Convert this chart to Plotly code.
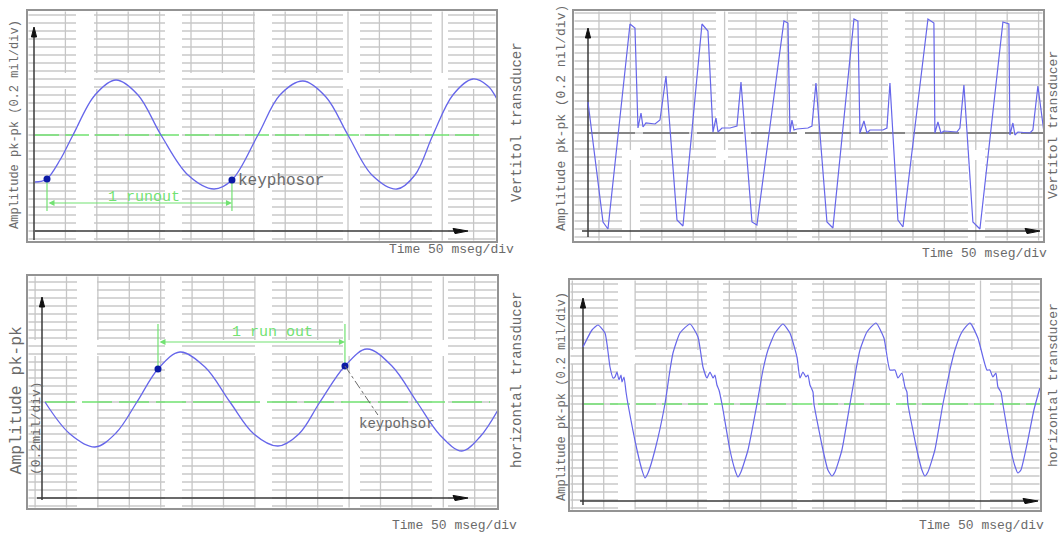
import math
import plotly.graph_objects as go

W, H = 1062, 535
MS_PER_DIV = 50.0          # time base: 50 ms per division
MIL_PER_DIV = 0.2          # amplitude: 0.2 mil per division
PX_PER_MS = 31.4 / MS_PER_DIV
PX_PER_MIL = 8.0 / MIL_PER_DIV

# ---------------- waveform data (time in ms, amplitude in mil) ----------------
# Vertical transducer, clean runout (top left)
vs_time = [1.6, 11.0, 20.7, 41.4, 62.1, 97.1, 130.5, 165.6, 202.2, 245.2, 286.6, 315.2,
           356.6, 391.6, 428.2, 464.9, 499.9, 538.1, 577.9, 606.6, 635.2, 667.0, 698.9,
           722.8, 737.1]
vs_amp = [-1.175, -1.16, -1.10, -0.625, 0.0, 1.0, 1.375, 1.0, 0.0, -1.0, -1.35, -1.125,
          0.0, 1.0, 1.35, 0.95, 0.0, -1.0, -1.35, -1.0, 0.0, 1.0, 1.4, 1.225, 0.9]
vs_key_time = [20.7, 315.2]
vs_key_amp = [-1.10, -1.125]

# Vertical transducer, impulsive signal (top right)
vi_time = [0.0, 23.9, 31.8, 66.9, 74.8, 79.6, 84.4, 87.6, 92.3, 106.7, 114.6, 124.2, 141.7,
           151.2, 181.5, 191.0, 199.0, 203.8, 207.0, 213.3, 226.1, 237.2, 243.6, 261.1,
           269.0, 312.0, 318.4, 321.6, 324.8, 328.0, 332.7, 350.2, 356.6, 363.0, 380.5,
           390.0, 423.5, 429.8, 433.0, 439.4, 444.2, 448.9, 469.6, 476.0, 480.8, 493.5,
           501.5, 541.3, 550.8, 552.4, 557.2, 562.0, 566.8, 587.4, 592.2, 598.6, 612.9,
           624.1, 660.7, 670.2, 671.8, 676.6, 679.8, 684.6, 703.7, 708.4, 716.4, 726.0]
vi_amp = [0.775, -2.225, -2.4, 2.725, 2.625, 0.125, 0.5, 0.15, 0.25, 0.225, 0.325, 1.425,
          -2.175, -2.325, 2.725, 2.55, 0.025, 0.375, 0.025, 0.125, 0.125, 0.175, 1.275,
          -2.225, -2.3, 2.8, 2.75, 0.0, 0.325, 0.075, 0.1, 0.125, 0.175, 1.25, -2.225,
          -2.375, 2.85, 2.8, 0.0, 0.3, 0.0, 0.075, 0.075, 0.125, 1.25, -2.175, -2.35,
          2.85, 2.75, 0.0, 0.275, 0.0, 0.05, 0.025, 0.125, 1.2, -2.225, -2.4, 2.775,
          2.725, -0.05, 0.25, -0.05, 0.025, 0.0, 0.075, 1.175, 0.025]

# Horizontal transducer, clean runout (bottom left)
hs_time = [4.8, 44.6, 84.4, 117.8, 151.2, 184.7, 219.7, 259.5, 299.3, 337.5, 375.7, 409.1,
           442.6, 482.4, 517.4, 557.2, 597.0, 633.6, 668.6, 697.3, 726.0]
hs_amp = [0.0, -0.8, -1.125, -0.775, 0.0, 0.825, 1.25, 0.875, 0.0, -0.8, -1.1, -0.8,
          0.0, 0.9, 1.325, 0.9, 0.0, -0.825, -1.225, -0.875, -0.2]
hs_key_time = [184.7, 482.4]
hs_key_amp = [0.825, 0.9]

# Horizontal transducer, signal with ripple (bottom right)
hn_time = [0.0, 14.3, 23.9, 35.0, 43.0, 47.8, 50.9, 54.1, 57.3, 60.5, 62.1, 65.3, 68.5, 71.6,
           86.0, 93.9, 98.7, 103.5, 114.6, 130.5, 138.5, 143.3, 154.4, 170.3, 183.1, 191.0,
           197.4, 202.2, 207.0, 210.1, 213.3, 216.5, 221.3, 234.0, 242.0, 246.8, 251.5,
           262.7, 277.0, 286.6, 294.5, 305.7, 318.4, 329.5, 340.7, 345.5, 350.2, 355.0,
           358.2, 361.4, 366.2, 367.8, 382.1, 390.0, 396.4, 401.2, 412.3, 425.1, 434.6,
           441.0, 452.1, 466.5, 479.2, 488.7, 496.7, 501.5, 507.8, 512.6, 515.8, 517.4,
           531.7, 539.7, 544.4, 549.2, 560.3, 573.1, 584.3, 592.2, 603.4, 616.1, 628.8,
           643.2, 647.9, 652.7, 657.5, 660.7, 665.5, 668.6, 681.4, 687.7, 692.5, 697.3,
           708.4, 718.0, 727.5]
hn_amp = [1.425, 1.85, 1.975, 1.775, 0.925, 0.65, 0.675, 0.8, 0.6, 0.725, 0.55, 0.675, 0.3,
          0.0, -1.15, -1.65, -1.85, -1.725, -1.15, 0.0, 0.85, 1.275, 1.775, 2.0, 1.675,
          0.925, 0.65, 0.8, 0.65, 0.725, 0.475, 0.35, 0.0, -1.15, -1.65, -1.825, -1.7,
          -1.15, 0.0, 0.85, 1.35, 1.775, 2.0, 1.775, 1.175, 0.65, 0.8, 0.675, 0.725, 0.475,
          0.3, 0.0, -1.15, -1.65, -1.8, -1.7, -1.15, 0.0, 0.85, 1.35, 1.8, 2.025, 1.65,
          0.85, 0.85, 0.65, 0.775, 0.425, 0.3, 0.0, -1.15, -1.65, -1.8, -1.7, -1.15, 0.0,
          0.85, 1.35, 1.8, 2.025, 1.65, 0.85, 0.85, 0.675, 0.775, 0.425, 0.3, 0.0, -1.15,
          -1.55, -1.725, -1.65, -0.9, -0.15, 0.4]

# ---------------- panel geometry (pixels on the page) ----------------
# frame = (left, top, right, bottom), origin = (x of amplitude axis, y of zero line)
panels = [
    dict(frame=(27, 10, 497, 242), origin=(34, 135), voff=0.0,
         hgaps=[(76, 94, 0, 600), (165, 182, 0, 600), (255, 272, 0, 600),
                (343, 360, 0, 600), (432, 448, 0, 600)],
         vbreaks=[(0, 1100, 73, 89)],
         vaxis=(240, 27), haxis=(231, 35, 468)),
    dict(frame=(573, 10, 1044, 242), origin=(588, 133), voff=17.5,
         hgaps=[(622, 640, 148, 600), (716, 728, 0, 160), (797, 812, 0, 600),
                (888, 905, 0, 160), (968, 985, 148, 600)],
         vbreaks=[(0, 1100, 150, 160)],
         vaxis=(237, 28), haxis=(231, 582, 1040)),
    dict(frame=(27, 275, 498, 509), origin=(42, 402), voff=39.0,
         hgaps=[(77, 97, 0, 600), (165, 182, 0, 600), (255, 272, 0, 600),
                (343, 360, 0, 600), (432, 448, 0, 600)],
         vbreaks=[(0, 1100, 340, 356)],
         vaxis=(500, 297), haxis=(498, 37, 468)),
    dict(frame=(569, 279, 1041, 511), origin=(583, 404), voff=33.0,
         hgaps=[(618, 635, 0, 600), (707, 723, 0, 600), (797, 812, 0, 600),
                (886, 902, 0, 600), (975, 990, 0, 600)],
         vbreaks=[(0, 1100, 350, 364)],
         vaxis=(505, 298), haxis=(501, 580, 1038)),
]

BLUE = "#6666ea"
GREEN = "#72e272"
TEXT = "#6a6a6a"
FONT = "Liberation Mono"


def tx(p, px):
    return (px - p["origin"][0]) / PX_PER_MS


def ay(p, py):
    return (p["origin"][1] - py) / PX_PER_MIL


def cut(lo, hi, holes):
    segs, cur = [], lo
    for h0, h1 in sorted(holes):
        if h1 <= cur or h0 >= hi:
            continue
        if h0 > cur:
            segs.append((cur, h0))
        cur = max(cur, h1)
    if cur < hi:
        segs.append((cur, hi))
    return segs


def grid_xy(p):
    L, T, R, B = p["frame"]
    ox, cy = p["origin"]
    hx, hy = [], []
    for k in range(math.ceil((T + 3 - cy) / 8.0), math.floor((B - 2 - cy) / 8.0) + 1):
        py = cy + 8.0 * k
        holes = [(g[0], g[1]) for g in p["hgaps"] if g[2] <= py <= g[3]]
        for s, e in cut(L + 1.5, R - 1.5, holes):
            hx += [tx(p, s), tx(p, e), None]
            hy += [ay(p, py), ay(p, py), None]
    vx, vy = [], []
    t_lo, t_hi = tx(p, L + 3), tx(p, R - 3)
    for n in range(math.ceil((t_lo - p["voff"]) / MS_PER_DIV),
                   math.floor((t_hi - p["voff"]) / MS_PER_DIV) + 1):
        t = p["voff"] + n * MS_PER_DIV
        if abs(t) < 5:
            continue
        px = ox + t * PX_PER_MS
        holes = [(b[2], b[3]) for b in p["vbreaks"] if b[0] <= px <= b[1]]
        for s, e in cut(T + 1.5, B - 1.5, holes):
            vx += [t, t, None]
            vy += [ay(p, s), ay(p, e), None]
    return hx, hy, vx, vy


fig = go.Figure()
layout = dict(width=W, height=H, margin=dict(l=0, r=0, t=0, b=0),
              paper_bgcolor="white", plot_bgcolor="rgba(0,0,0,0)",
              showlegend=False, shapes=[], annotations=[])

for i, p in enumerate(panels, start=1):
    L, T, R, B = p["frame"]
    sx = "" if i == 1 else str(i)
    xa, ya = "x" + sx, "y" + sx
    layout["xaxis" + sx] = dict(domain=[L / W, R / W], range=[tx(p, L), tx(p, R)],
                                visible=False, anchor=ya, fixedrange=True)
    layout["yaxis" + sx] = dict(domain=[1 - B / H, 1 - T / H], range=[ay(p, B), ay(p, T)],
                                visible=False, anchor=xa, fixedrange=True)
    p["xa"], p["ya"] = xa, ya

    hx, hy, vx, vy = grid_xy(p)
    fig.add_trace(go.Scatter(x=hx, y=hy, mode="lines", xaxis=xa, yaxis=ya,
                             line=dict(color="#d6d6d6", width=2), hoverinfo="skip"))
    fig.add_trace(go.Scatter(x=vx, y=vy, mode="lines", xaxis=xa, yaxis=ya,
                             line=dict(color="#c6c6c6", width=1.3), hoverinfo="skip"))

    # frame
    layout["shapes"].append(dict(type="rect", xref=xa + " domain", yref=ya + " domain",
                                 x0=0, x1=1, y0=0, y1=1,
                                 line=dict(color="#939393", width=2)))

    # axes with arrowheads
    vb, vt = p["vaxis"]
    hy_px, hx0, hx1 = p["haxis"]
    fig.add_trace(go.Scatter(x=[0, 0], y=[ay(p, vb), ay(p, vt + 6)], mode="lines",
                             xaxis=xa, yaxis=ya, line=dict(color="#3a3a3a", width=1.5),
                             hoverinfo="skip"))
    fig.add_trace(go.Scatter(x=[tx(p, hx0), tx(p, hx1 - 10)], y=[ay(p, hy_px)] * 2,
                             mode="lines", xaxis=xa, yaxis=ya,
                             line=dict(color="#3a3a3a", width=1.5), hoverinfo="skip"))
    ax_tip = ay(p, vt)
    fig.add_trace(go.Scatter(
        x=[0, -2.6 / PX_PER_MS, 2.6 / PX_PER_MS, 0],
        y=[ax_tip, ax_tip - 10 / PX_PER_MIL, ax_tip - 10 / PX_PER_MIL, ax_tip],
        mode="lines", fill="toself", fillcolor="#111", line=dict(color="#111", width=1),
        xaxis=xa, yaxis=ya, hoverinfo="skip"))
    h_tip, h_a = tx(p, hx1), ay(p, hy_px)
    fig.add_trace(go.Scatter(
        x=[h_tip, h_tip - 15 / PX_PER_MS, h_tip - 13 / PX_PER_MS, h_tip],
        y=[h_a, h_a + 2.6 / PX_PER_MIL, h_a - 2.6 / PX_PER_MIL, h_a],
        mode="lines", fill="toself", fillcolor="#111", line=dict(color="#111", width=1),
        xaxis=xa, yaxis=ya, hoverinfo="skip"))

    # "Time" caption under each frame
    layout["annotations"].append(dict(
        text="Time 50 mseg/div", xref="paper", yref="paper",
        x=[387, 920, 390, 917][i - 1] / W, y=1 - [249, 253, 525, 525][i - 1] / H,
        xanchor="left", yanchor="middle", showarrow=False,
        font=dict(family=FONT, size=13, color=TEXT)))

# zero lines
p1, p2, p3, p4 = panels
fig.add_trace(go.Scatter(x=[tx(p1, 35), tx(p1, 482)], y=[0, 0], mode="lines",
                         xaxis=p1["xa"], yaxis=p1["ya"],
                         line=dict(color=GREEN, width=1.5, dash="24px,6px"), hoverinfo="skip"))
fig.add_trace(go.Scatter(x=[tx(p2, 589), tx(p2, 1044)], y=[0, 0], mode="lines",
                         xaxis=p2["xa"], yaxis=p2["ya"],
                         line=dict(color="#858585", width=2, dash="46px,8px"), hoverinfo="skip"))
fig.add_trace(go.Scatter(x=[tx(p3, 45), tx(p3, 490)], y=[0, 0], mode="lines",
                         xaxis=p3["xa"], yaxis=p3["ya"],
                         line=dict(color=GREEN, width=1.5, dash="30px,7px"), hoverinfo="skip"))
fig.add_trace(go.Scatter(x=[tx(p4, 584), tx(p4, 1040)], y=[0, 0], mode="lines",
                         xaxis=p4["xa"], yaxis=p4["ya"],
                         line=dict(color=GREEN, width=1.5, dash="20px,6px"), hoverinfo="skip"))

# waveforms
fig.add_trace(go.Scatter(x=vs_time, y=vs_amp, mode="lines", xaxis=p1["xa"], yaxis=p1["ya"],
                         line=dict(color=BLUE, width=1.3, shape="spline", smoothing=1.0)))
fig.add_trace(go.Scatter(x=vi_time, y=vi_amp, mode="lines", xaxis=p2["xa"], yaxis=p2["ya"],
                         line=dict(color=BLUE, width=1.2)))
fig.add_trace(go.Scatter(x=hs_time, y=hs_amp, mode="lines", xaxis=p3["xa"], yaxis=p3["ya"],
                         line=dict(color=BLUE, width=1.3, shape="spline", smoothing=1.0)))
fig.add_trace(go.Scatter(x=hn_time, y=hn_amp, mode="lines", xaxis=p4["xa"], yaxis=p4["ya"],
                         line=dict(color=BLUE, width=1.2, shape="spline", smoothing=0.5)))


def runout_marks(p, key_t, key_a, ext_to, dim_a, label, label_t, label_a, label_size):
    xa, ya = p["xa"], p["ya"]
    for t, a in zip(key_t, key_a):
        fig.add_trace(go.Scatter(x=[t, t], y=[a, ext_to], mode="lines", xaxis=xa, yaxis=ya,
                                 line=dict(color=GREEN, width=1.2), hoverinfo="skip"))
    layout["annotations"].append(dict(
        x=key_t[1], y=dim_a, ax=key_t[0], ay=dim_a, xref=xa, yref=ya, axref=xa, ayref=ya,
        text="", showarrow=True, arrowside="end+start", arrowhead=2, arrowsize=1.0,
        arrowwidth=1.2, arrowcolor=GREEN, standoff=0, startstandoff=0))
    layout["annotations"].append(dict(
        x=label_t, y=label_a, xref=xa, yref=ya, text=label, showarrow=False,
        font=dict(family=FONT, size=label_size, color=GREEN), xanchor="center",
        yanchor="middle"))
    fig.add_trace(go.Scatter(x=key_t, y=key_a, mode="markers", xaxis=xa, yaxis=ya,
                             marker=dict(color="#0b1aa6", size=7)))


runout_marks(p1, vs_key_time, vs_key_amp, -1.9, -1.7, "1 runout", 175.0, -1.55, 15)
runout_marks(p3, hs_key_time, hs_key_amp, 1.95, 1.5, "1 run out", 367.8, 1.73, 15)

# keyphasor labels
layout["annotations"].append(dict(
    x=321.6, y=-1.15, xref=p1["xa"], yref=p1["ya"], text="keyphosor", showarrow=False,
    xanchor="left", yanchor="middle", font=dict(family=FONT, size=16, color=TEXT)))
fig.add_trace(go.Scatter(x=[hs_key_time[1], 534.9], y=[hs_key_amp[1], -0.325], mode="lines",
                         xaxis=p3["xa"], yaxis=p3["ya"],
                         line=dict(color="#6a6a6a", width=1, dash="dashdot"), hoverinfo="skip"))
layout["annotations"].append(dict(
    x=501.5, y=-0.55, xref=p3["xa"], yref=p3["ya"], text="keypohsor", showarrow=False,
    xanchor="left", yanchor="middle", font=dict(family=FONT, size=14, color=TEXT)))

# rotated captions: (text, x px, y px, size)
side_labels = [
    ("Amplitude pk-pk (0.2 mil/div)", 15, 125, 12),
    ("Amplitude pk-pk (0.2 nil/div)", 562, 118, 13),
    ("Amplitude pk-pk (0.2 mil/div)", 562, 397, 12),
    ("Vertitol transducer", 517, 122, 14),
    ("Vertitol transducer", 1053, 125, 13),
    ("horizontal transducer", 517, 380, 14),
    ("horizontal transducer", 1053, 385, 13),
]
for text, x, y, size in side_labels:
    layout["annotations"].append(dict(
        text=text, xref="paper", yref="paper", x=x / W, y=1 - y / H, textangle=-90,
        showarrow=False, xanchor="center", yanchor="middle",
        font=dict(family=FONT, size=size, color=TEXT)))
# two-line caption on the lower left frame, both lines starting near the bottom
layout["annotations"].append(dict(
    text="Amplitude pk-pk", xref="paper", yref="paper", x=16 / W, y=1 - 477 / H,
    textangle=-90, showarrow=False, xanchor="center", yanchor="bottom",
    font=dict(family=FONT, size=16.5, color=TEXT)))
layout["annotations"].append(dict(
    text="(0.2mil/div)", xref="paper", yref="paper", x=36 / W, y=1 - 477 / H,
    textangle=-90, showarrow=False, xanchor="center", yanchor="bottom",
    font=dict(family=FONT, size=13, color=TEXT)))

fig.update_layout(**layout)
fig.write_html("out.html")
